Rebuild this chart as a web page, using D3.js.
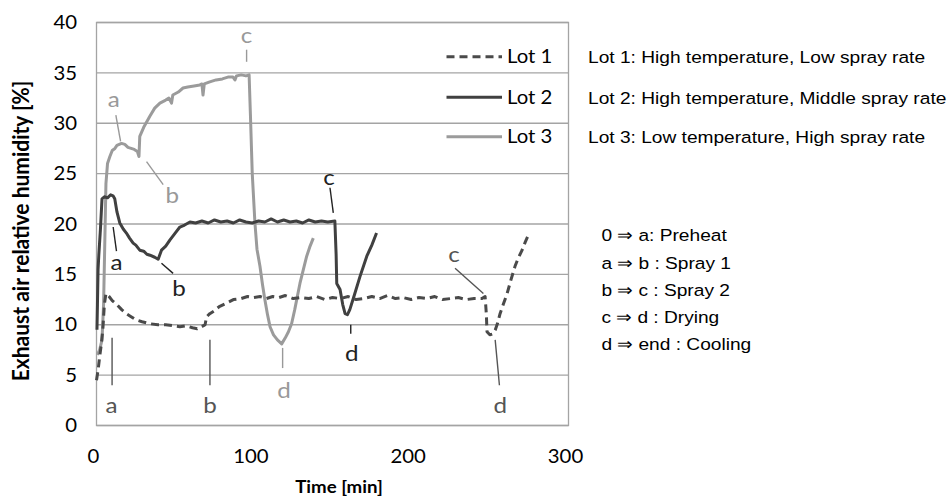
<!DOCTYPE html>
<html>
<head>
<meta charset="utf-8">
<script src="https://cdn.jsdelivr.net/npm/d3@7"></script>
<style>
  body { margin: 0; background: #fff; }
  svg { display: block; }
  .tick-label { font-family: Lato, sans-serif; font-size: 18.5px; fill: #000; }
  .axis-title { font-family: Lato, sans-serif; font-size: 17px; font-weight: bold; fill: #000; }
  .y-title { font-size: 21px; }
  .ann { font-family: Lato, sans-serif; font-size: 22px; }
  .note { font-family: "Liberation Sans", Arial, sans-serif; font-size: 17.4px; fill: #000; }
</style>
</head>
<body>
<svg id="chart" width="949" height="501"></svg>
<script>

// time [min] and humidity [%]
var lot1Time = [0, 1, 2, 3, 4, 5, 6, 8, 10, 13, 16, 19, 22, 25, 29, 34, 39, 44, 49, 53, 57, 61, 64, 66, 68, 69, 70, 72, 75, 78, 82, 87, 92, 96, 100, 104, 108, 112, 116, 120, 125, 130, 135, 140, 145, 150, 155, 160, 165, 170, 175, 180, 185, 190, 195, 200, 205, 210, 215, 220, 225, 230, 235, 240, 245, 247, 247.8, 248.2, 250, 252, 253.5, 255, 256.5, 258.5, 261, 263.5, 266, 268, 270.5, 272.5, 275];
var lot1Hum  = [4.5, 5.5, 6.8, 8, 9.5, 12, 13.1, 12.8, 12.4, 12.0, 11.5, 11.1, 10.8, 10.5, 10.3, 10.1, 10.0, 10.0, 9.9, 9.8, 9.9, 9.7, 9.6, 9.8, 9.9, 10.0, 10.8, 11.1, 11.4, 11.8, 12.1, 12.5, 12.6, 12.8, 12.7, 12.8, 12.6, 12.8, 12.7, 12.9, 12.6, 12.7, 12.6, 12.8, 12.5, 12.7, 12.6, 12.8, 12.5, 12.6, 12.8, 12.6, 12.9, 12.6, 12.7, 12.5, 12.7, 12.6, 12.8, 12.5, 12.6, 12.7, 12.5, 12.6, 12.6, 12.8, 11, 9.3, 9.0, 9.1, 9.5, 10.2, 11.1, 12, 13.1, 14.5, 15.8, 16.6, 17.4, 18.2, 19.1];

var lot2Time = [0.3, 0.6, 1, 1.5, 2.5, 3.5, 5, 7, 9, 10.5, 11.6, 13, 14.8, 17, 19, 21, 23.3, 25, 27.5, 30, 32, 34, 37, 39.2, 41.3, 44, 46.6, 50, 53, 56, 59.4, 63, 67, 71, 75, 79, 83, 87, 91, 95, 99, 103, 107, 111, 115, 119, 123, 127, 131, 135, 139, 143, 147, 151.5, 152.3, 152.7, 154.8, 156.5, 158, 159.5, 161, 164, 167.5, 171.8, 175, 178];
var lot2Hum  = [9.5, 12, 15.5, 17, 19.5, 22.5, 22.7, 22.6, 22.9, 22.8, 22.5, 21.2, 20.1, 19.5, 19.1, 18.6, 18.1, 17.9, 17.4, 17.3, 17.0, 16.9, 16.7, 16.5, 17.4, 17.8, 18.4, 19.1, 19.7, 19.9, 20.2, 20.1, 20.3, 20.1, 20.4, 20.2, 20.3, 20.1, 20.4, 20.2, 20.1, 20.3, 20.2, 20.5, 20.2, 20.4, 20.2, 20.3, 20.1, 20.4, 20.2, 20.3, 20.2, 20.3, 17, 14.1, 13.5, 12, 11.1, 11, 11.5, 13, 14.8, 16.8, 17.9, 19.1];

var lot3Time = [0.5, 2, 3.5, 4.5, 5, 5.5, 6, 7, 8.5, 10, 11.7, 13, 15.9, 18, 20, 22, 24, 26, 27, 27.5, 30, 33.9, 37, 40.3, 44, 46, 47.7, 48.5, 52, 55, 58, 62, 65.7, 67, 67.7, 68.5, 72, 76, 80, 84, 86.7, 88, 89, 92, 95, 97, 97.8, 99, 100.7, 102, 103.9, 105.5, 107, 108.7, 110.3, 112.5, 115, 117.7, 120, 122, 124, 126, 129.3, 131.5, 133.6, 135.5, 137.8];
var lot3Hum  = [7, 7.5, 8.5, 12, 16, 20, 24, 26, 26.7, 27.3, 27.5, 27.8, 28, 27.9, 27.6, 27.5, 27.4, 27.2, 26.7, 28.7, 29.6, 30.7, 31.5, 32, 32.3, 32.5, 32.0, 32.8, 33.1, 33.5, 33.6, 33.7, 33.8, 33.9, 32.8, 33.9, 34.1, 34.3, 34.4, 34.6, 34.6, 34.3, 34.7, 34.8, 34.7, 34.8, 31, 25, 20.1, 17.5, 15.8, 14, 12.5, 11, 9.8, 9, 8.5, 8.1, 8.7, 9.3, 10.1, 11.5, 14.1, 15.5, 16.8, 17.7, 18.6];

var lotNames = ['Lot 1', 'Lot 2', 'Lot 3'];
var lotNotes = ['Lot 1: High temperature, Low spray rate',
                'Lot 2: High temperature, Middle spray rate',
                'Lot 3: Low temperature, High spray rate'];
var phaseNotes = ['0 \u21D2 a: Preheat', 'a \u21D2 b : Spray 1', 'b \u21D2 c : Spray 2',
                  'c \u21D2 d : Drying', 'd \u21D2 end : Cooling'];

var xTicks = [0, 100, 200, 300];
var yTicks = [0, 5, 10, 15, 20, 25, 30, 35, 40];

// phase labels: [lot, letter, text t, text h, line t1, h1, t2, h2]
var phaseMarks = [
    [1, 'a', 9.5, 2.0, 9.9, 8.7, 9.9, 4.0],
    [1, 'b', 72.1, 2.0, 72.1, 8.5, 72.1, 4.0],
    [1, 'c', 227.3, 17.0, 227.9, 15.6, 245.9, 13.1],
    [1, 'd', 256.6, 2.0, 253.4, 8.5, 256.1, 4.0],
    [2, 'a', 12.7, 16.2, 10.6, 19.7, 12.7, 17.3],
    [2, 'b', 52.4, 13.6, 41.3, 16.1, 48.7, 15.1],
    [2, 'c', 147.8, 24.7, 148.4, 23.6, 150.5, 21.1],
    [2, 'd', 162.2, 7.2, 161.6, 10.0, 161.6, 9.1],
    [3, 'a', 11.0, 32.4, 12.3, 30.8, 15.3, 28.2],
    [3, 'b', 48.2, 22.9, 31.8, 26.2, 42.4, 23.9],
    [3, 'c', 95.4, 38.8, 95.4, 37.3, 95.4, 36.1],
    [3, 'd', 119.2, 3.5, 118.3, 7.7, 118.3, 5.7]
];

var lotColor = {1: '#4a4a4a', 2: '#404040', 3: '#9b9b9b'};
var labelColor = {1: '#555', 2: '#222', 3: '#999'};

var svg = d3.select('#chart');
var stretch = 1.1;   // the picture is a little wider than tall

var x = d3.scaleLinear().domain([0, 300]).range([96.5, 568.5]);
var y = d3.scaleLinear().domain([0, 40]).range([425.5, 22.5]);

function place(sel, px, py, extra) {
    return sel.attr('transform', 'translate(' + px + ',' + py + ') scale(' + stretch + ',1)' + (extra || ''));
}

// grid
svg.append('g').selectAll('line')
    .data(yTicks)
    .enter()
    .append('line')
    .attr('x1', x(0)).attr('x2', x(300))
    .attr('y1', function(d) {return y(d);})
    .attr('y2', function(d) {return y(d);})
    .attr('stroke', '#a4a4a4')
    .attr('stroke-width', 1.3);

svg.append('rect')
    .attr('x', x(0)).attr('y', y(40))
    .attr('width', x(300) - x(0)).attr('height', y(0) - y(40))
    .attr('fill', 'none')
    .attr('stroke', '#a4a4a4')
    .attr('stroke-width', 1.3);

// tick labels
svg.append('g').selectAll('text')
    .data(yTicks)
    .enter()
    .append('text')
    .attr('class', 'tick-label')
    .attr('text-anchor', 'end')
    .attr('dy', '0.36em')
    .text(function(d) {return d;})
    .each(function(d) {place(d3.select(this), 77, y(d));});

svg.append('g').selectAll('text')
    .data(xTicks)
    .enter()
    .append('text')
    .attr('class', 'tick-label')
    .attr('text-anchor', 'middle')
    .attr('dy', '0.36em')
    .text(function(d) {return d;})
    .each(function(d) {place(d3.select(this), x(d) - 3, 456.5);});

place(svg.append('text')
    .attr('class', 'axis-title')
    .attr('text-anchor', 'middle')
    .attr('dy', '0.36em')
    .text('Time [min]'), 339, 487);

svg.append('text')
    .attr('class', 'axis-title y-title')
    .attr('text-anchor', 'middle')
    .attr('dy', '0.36em')
    .attr('transform', 'translate(21,231) scale(' + stretch + ',1) rotate(-90)')
    .text('Exhaust air relative humidity [%]');

// curves
var series = [
    {lot: 1, t: lot1Time, h: lot1Hum, dash: '8,5'},
    {lot: 2, t: lot2Time, h: lot2Hum, dash: null},
    {lot: 3, t: lot3Time, h: lot3Hum, dash: null}
];

var line = d3.line()
    .x(function(d) {return x(d[0]);})
    .y(function(d) {return y(d[1]);});

svg.append('g').selectAll('path')
    .data(series.slice().reverse())
    .enter()
    .append('path')
    .attr('d', function(s) {return line(d3.zip(s.t, s.h));})
    .attr('fill', 'none')
    .attr('stroke', function(s) {return lotColor[s.lot];})
    .attr('stroke-width', 3)
    .attr('stroke-linejoin', 'round')
    .attr('stroke-dasharray', function(s) {return s.dash;});

// phase annotations
var ann = svg.append('g').selectAll('g')
    .data(phaseMarks)
    .enter()
    .append('g');

ann.append('line')
    .attr('x1', function(d) {return x(d[4]);})
    .attr('y1', function(d) {return y(d[5]);})
    .attr('x2', function(d) {return x(d[6]);})
    .attr('y2', function(d) {return y(d[7]);})
    .attr('stroke', function(d) {return labelColor[d[0]];})
    .attr('stroke-width', 1.4);

ann.append('text')
    .attr('class', 'ann')
    .attr('text-anchor', 'middle')
    .attr('dy', '0.36em')
    .attr('fill', function(d) {return labelColor[d[0]];})
    .text(function(d) {return d[1];})
    .each(function(d) {place(d3.select(this), x(d[2]), y(d[3]));});

// legend
var legendY = [56.7, 97.3, 136.7];
var leg = svg.append('g').selectAll('g')
    .data(series)
    .enter()
    .append('g');

leg.append('line')
    .attr('x1', 446.5).attr('x2', 502)
    .attr('y1', function(s, i) {return legendY[i];})
    .attr('y2', function(s, i) {return legendY[i];})
    .attr('stroke', function(s) {return lotColor[s.lot];})
    .attr('stroke-width', 3)
    .attr('stroke-dasharray', function(s) {return s.dash;});

leg.append('text')
    .attr('class', 'tick-label')
    .attr('dy', '0.36em')
    .text(function(s, i) {return lotNames[i];})
    .each(function(s, i) {place(d3.select(this), 507, legendY[i]);});

// notes on the right
svg.append('g').selectAll('text')
    .data(lotNotes)
    .enter()
    .append('text')
    .attr('class', 'note')
    .attr('dy', '0.36em')
    .text(function(d) {return d;})
    .each(function(d, i) {place(d3.select(this), 588, legendY[i]);});

svg.append('g').selectAll('text')
    .data(phaseNotes)
    .enter()
    .append('text')
    .attr('class', 'note')
    .attr('dy', '0.36em')
    .text(function(d) {return d;})
    .each(function(d, i) {place(d3.select(this), 601.5, 235 + i * 27.3);});

</script>
</body>
</html>
